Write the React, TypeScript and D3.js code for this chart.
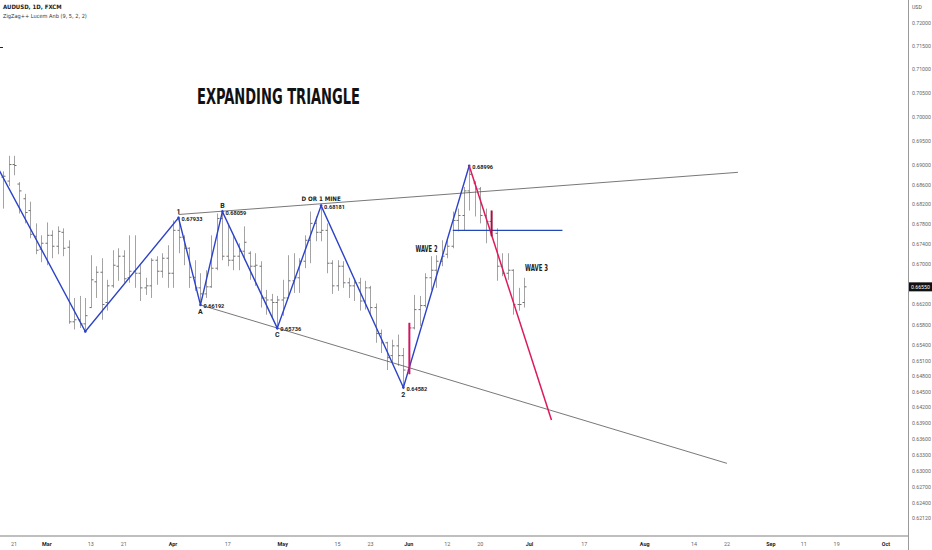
import React from 'react';
import * as d3 from 'd3';

// AUDUSD daily bars
const dates = [
  '2023-02-17', '2023-02-20', '2023-02-21', '2023-02-22', '2023-02-23', '2023-02-24', '2023-02-27', '2023-02-28',
  '2023-03-01', '2023-03-02', '2023-03-03', '2023-03-06', '2023-03-07', '2023-03-08', '2023-03-09', '2023-03-10',
  '2023-03-13', '2023-03-14', '2023-03-15', '2023-03-16', '2023-03-17', '2023-03-20', '2023-03-21', '2023-03-22',
  '2023-03-23', '2023-03-24', '2023-03-27', '2023-03-28', '2023-03-29', '2023-03-30', '2023-03-31', '2023-04-03',
  '2023-04-04', '2023-04-05', '2023-04-06', '2023-04-07', '2023-04-10', '2023-04-11', '2023-04-12', '2023-04-13',
  '2023-04-14', '2023-04-17', '2023-04-18', '2023-04-19', '2023-04-20', '2023-04-21', '2023-04-24', '2023-04-25',
  '2023-04-26', '2023-04-27', '2023-04-28', '2023-05-01', '2023-05-02', '2023-05-03', '2023-05-04', '2023-05-05',
  '2023-05-08', '2023-05-09', '2023-05-10', '2023-05-11', '2023-05-12', '2023-05-15', '2023-05-16', '2023-05-17',
  '2023-05-18', '2023-05-19', '2023-05-22', '2023-05-23', '2023-05-24', '2023-05-25', '2023-05-26', '2023-05-29',
  '2023-05-30', '2023-05-31', '2023-06-01', '2023-06-02', '2023-06-05', '2023-06-06', '2023-06-07', '2023-06-08',
  '2023-06-09', '2023-06-12', '2023-06-13', '2023-06-14', '2023-06-15', '2023-06-16', '2023-06-19', '2023-06-20',
  '2023-06-21', '2023-06-22', '2023-06-23', '2023-06-26', '2023-06-27', '2023-06-28', '2023-06-29', '2023-06-30',
];
const opens = [
  0.6876, 0.6868, 0.6902, 0.6862, 0.6832, 0.6808, 0.6756, 0.6730,
  0.6742, 0.6758, 0.6736, 0.6764, 0.6734, 0.6586, 0.6590, 0.6582,
  0.6614, 0.6665, 0.6684, 0.6624, 0.6657, 0.6696, 0.6716, 0.6673,
  0.6686, 0.6682, 0.6653, 0.6657, 0.6708, 0.6686, 0.6712, 0.6682,
  0.6768, 0.6754, 0.6732, 0.6674, 0.6653, 0.6641, 0.6655, 0.6692,
  0.6792, 0.6716, 0.6708, 0.6716, 0.6726, 0.6722, 0.6696, 0.6696,
  0.6633, 0.6629, 0.6624, 0.6629, 0.6633, 0.6667, 0.6673, 0.6706,
  0.6748, 0.6782, 0.6764, 0.6768, 0.6702, 0.6657, 0.6696, 0.6663,
  0.6657, 0.6663, 0.6627, 0.6653, 0.6614, 0.6563, 0.6545, 0.6520,
  0.6539, 0.6520, 0.6492, 0.6574, 0.6610, 0.6618, 0.6673, 0.6688,
  0.6706, 0.6720, 0.6736, 0.6788, 0.6798, 0.6848, 0.6864, 0.6852,
  0.6798, 0.6786, 0.6762, 0.6696, 0.6682, 0.6688, 0.6620, 0.6624,
];
const highs = [
  0.6888, 0.6920, 0.6920, 0.6866, 0.6842, 0.6826, 0.6782, 0.6758,
  0.6784, 0.6768, 0.6776, 0.6772, 0.6748, 0.6633, 0.6637, 0.6633,
  0.6718, 0.6696, 0.6712, 0.6669, 0.6728, 0.6732, 0.6728, 0.6758,
  0.6758, 0.6698, 0.6673, 0.6712, 0.6716, 0.6722, 0.6738, 0.6788,
  0.67933, 0.6758, 0.6734, 0.6708, 0.6682, 0.6688, 0.6758, 0.6802,
  0.68059, 0.6780, 0.6756, 0.6742, 0.6776, 0.6726, 0.6722, 0.6706,
  0.6649, 0.6641, 0.6637, 0.6669, 0.6718, 0.6722, 0.6712, 0.6758,
  0.6806, 0.6796, 0.68181, 0.6782, 0.6708, 0.6708, 0.6706, 0.6673,
  0.6669, 0.6673, 0.6667, 0.6657, 0.6622, 0.6571, 0.6547, 0.6551,
  0.6561, 0.6535, 0.6584, 0.6639, 0.6637, 0.6682, 0.6716, 0.6718,
  0.6748, 0.6748, 0.6806, 0.6812, 0.6856, 0.68996, 0.6868, 0.6856,
  0.6812, 0.6808, 0.6772, 0.6722, 0.6722, 0.6690, 0.6653, 0.6673,
];
const lows = [
  0.6812, 0.6858, 0.6880, 0.6802, 0.6782, 0.6752, 0.6720, 0.6704,
  0.6698, 0.6712, 0.6720, 0.6716, 0.6582, 0.6571, 0.6574, 0.6567,
  0.6614, 0.6633, 0.6590, 0.6608, 0.6653, 0.6667, 0.6663, 0.6663,
  0.6653, 0.6627, 0.6639, 0.6633, 0.6659, 0.6673, 0.6653, 0.6653,
  0.6722, 0.6698, 0.6653, 0.6647, 0.66192, 0.6633, 0.6653, 0.6688,
  0.6708, 0.6696, 0.6688, 0.6688, 0.6708, 0.6669, 0.6657, 0.6614,
  0.6600, 0.6594, 0.65736, 0.6598, 0.6633, 0.6643, 0.6643, 0.6692,
  0.6702, 0.6746, 0.6746, 0.6682, 0.6641, 0.6647, 0.6653, 0.6633,
  0.6627, 0.6608, 0.6610, 0.6598, 0.6545, 0.6525, 0.6492, 0.6506,
  0.6500, 0.64582, 0.6484, 0.6571, 0.6578, 0.6614, 0.6649, 0.6653,
  0.6696, 0.6712, 0.6732, 0.6766, 0.6768, 0.6808, 0.6796, 0.6782,
  0.6742, 0.6756, 0.6667, 0.6676, 0.6669, 0.6600, 0.6608, 0.6614,
];
const closes = [
  0.6878, 0.6902, 0.6900, 0.6848, 0.6804, 0.6760, 0.6728, 0.6742,
  0.6758, 0.6736, 0.6766, 0.6732, 0.6586, 0.6590, 0.6582, 0.6598,
  0.6669, 0.6684, 0.6620, 0.6657, 0.6698, 0.6716, 0.6671, 0.6686,
  0.6682, 0.6653, 0.6657, 0.6708, 0.6686, 0.6712, 0.6682, 0.6768,
  0.6754, 0.6732, 0.6674, 0.6653, 0.6641, 0.6655, 0.6692, 0.6792,
  0.6716, 0.6708, 0.6716, 0.6726, 0.6744, 0.6696, 0.6698, 0.6633,
  0.6629, 0.6624, 0.6629, 0.6633, 0.6667, 0.6673, 0.6706, 0.6748,
  0.6782, 0.6764, 0.6768, 0.6702, 0.6657, 0.6696, 0.6663, 0.6657,
  0.6663, 0.6627, 0.6653, 0.6614, 0.6563, 0.6545, 0.6516, 0.6539,
  0.6520, 0.6492, 0.6574, 0.6610, 0.6618, 0.6673, 0.6688, 0.6706,
  0.6716, 0.6736, 0.6788, 0.6798, 0.6848, 0.6882, 0.6852, 0.6798,
  0.6786, 0.6768, 0.6696, 0.6682, 0.6688, 0.6620, 0.6620, 0.6655,
];

// zigzag pivots
const zigDates = ['2023-02-14', '2023-03-10', '2023-04-04', '2023-04-10', '2023-04-14', '2023-04-28', '2023-05-10', '2023-05-31', '2023-06-16'];
const zigPrices = [0.6939, 0.6567, 0.67933, 0.66192, 0.68059, 0.65736, 0.68181, 0.64582, 0.68996];
const pivotNames = ['', '', '1', 'A', 'B', 'C', 'D OR 1 MINE', '2', ''];

// drawn objects
const upperLine = { d: ['2023-04-04', '2023-08-24'], p: [0.6800, 0.6886] };
const lowerLine = { d: ['2023-04-10', '2023-08-22'], p: [0.66192, 0.6314] };
const redLine = { d: ['2023-06-16', '2023-07-07'], p: [0.68996, 0.6396] };
const hLine = { d: ['2023-06-13', '2023-07-11'], p: [0.6768, 0.6768] };
const markers = [
  { d: '2023-06-01', p: [0.6584, 0.6484], c: '#d0165f' },
  { d: '2023-06-22', p: [0.6808, 0.6756], c: '#a3123f' },
];

// axes
const priceTicks = [0.72, 0.715, 0.71, 0.705, 0.7, 0.695, 0.69, 0.686, 0.682, 0.678, 0.674, 0.67,
  0.662, 0.658, 0.654, 0.651, 0.648, 0.645, 0.642, 0.639, 0.636, 0.633, 0.63, 0.627, 0.624, 0.6212];
const lastPrice = 0.6655;
const timeTickDates = ['2023-02-21', '2023-03-01', '2023-03-13', '2023-03-21', '2023-04-03', '2023-04-17', '2023-05-01',
  '2023-05-15', '2023-05-23', '2023-06-01', '2023-06-12', '2023-06-20', '2023-07-03', '2023-07-17', '2023-08-01',
  '2023-08-14', '2023-08-22', '2023-09-01', '2023-09-11', '2023-09-19', '2023-10-02'];
const timeTickLabels = ['21', 'Mar', '13', '21', 'Apr', '17', 'May', '15', '23', 'Jun', '12', '20', 'Jul', '17', 'Aug',
  '14', '22', 'Sep', '11', '19', 'Oct'];

const W = 932;
const H = 550;
const axisX = 908;
const axisY = 536;

const fmtKey = d3.timeFormat('%Y-%m-%d');
const days = d3.timeDay.range(new Date(2023, 1, 1), new Date(2023, 9, 10)).filter(d => d.getDay() !== 0 && d.getDay() !== 6);
const dayIndex = new Map(days.map((d, i) => [fmtKey(d), i]));
const di = (s: string) => dayIndex.get(s) as number;

const x = d3.scaleLinear().domain([di('2023-02-21'), di('2023-10-02')]).range([14, 886]);
const y = d3.scaleLog().domain([0.6212, 0.72]).range([518, 22.7]);
const fmtP = d3.format('.5f');

const narrow = "'Liberation Sans Narrow', 'DejaVu Sans Condensed', 'Roboto', sans-serif";
const sans = "'Roboto', 'Liberation Sans', sans-serif";

const App: React.FC = () => {
  const xd = (s: string) => x(di(s));
  const line = d3.line<[number, number]>();
  const zig: [number, number][] = zigDates.map((d, i) => [xd(d), y(zigPrices[i])]);
  const seg = (o: { d: string[]; p: number[] }) => line([[xd(o.d[0]), y(o.p[0])], [xd(o.d[1]), y(o.p[1])]]) as string;

  const pivLabels = zigDates.map((d, i) => {
    const px = xd(d);
    const py = y(zigPrices[i]);
    const isLow = i % 2 === 1;
    return { px, py, isLow, name: pivotNames[i], price: fmtP(zigPrices[i]) };
  });

  return (
    <svg width={W} height={H} style={{ position: 'absolute', left: 0, top: 0, background: '#fff' }}>
      <rect width={W} height={H} fill="#fff" />
      <defs>
        <clipPath id="plot"><rect x={0} y={0} width={axisX} height={axisY} /></clipPath>
      </defs>

      <g clipPath="url(#plot)">
        {/* OHLC bars */}
        {dates.map((d, i) => {
          const cx = Math.round(xd(d)) + 0.5;
          return (
            <g key={d}>
              <line x1={cx} x2={cx} y1={y(highs[i])} y2={y(lows[i])} stroke="#a3a3a3" strokeWidth={1} />
              <line x1={cx - 2} x2={cx} y1={y(opens[i])} y2={y(opens[i])} stroke="#6d6d6d" strokeWidth={1} />
              <line x1={cx} x2={cx + 2} y1={y(closes[i])} y2={y(closes[i])} stroke="#6d6d6d" strokeWidth={1} />
            </g>
          );
        })}

        {/* trend lines */}
        <path d={seg(upperLine)} stroke="#555" strokeWidth={0.8} fill="none" />
        <path d={seg(lowerLine)} stroke="#555" strokeWidth={0.8} fill="none" />

        {/* zigzag */}
        <path d={line(zig) as string} stroke="#2c43c8" strokeWidth={1.4} fill="none" />
        {zig.slice(1).map(([px, py], i) => (
          <circle key={i} cx={px} cy={py} r={1.3} fill="#2c43c8" />
        ))}

        <path d={seg(hLine)} stroke="#2447b8" strokeWidth={1.4} fill="none" />
        <path d={seg(redLine)} stroke="#dc1a5c" strokeWidth={1.5} fill="none" />
        {markers.map(m => (
          <line key={m.d} x1={xd(m.d) + 0.5} x2={xd(m.d) + 0.5} y1={y(m.p[0])} y2={y(m.p[1])} stroke={m.c} strokeWidth={2} />
        ))}

        {/* pivot labels */}
        {pivLabels.map((l, i) => i < 2 ? null : (
          <g key={i} fontFamily={sans} fill="#222">
            {l.name && (l.name.length > 1 ? (
              <text x={l.px} y={l.py - 4.5} fontSize={6.2} fontWeight={700} textAnchor="middle" fontFamily={narrow}>{l.name}</text>
            ) : (
              <text x={l.px} y={l.isLow ? l.py + 9 : l.py - 4} fontSize={7} fontWeight={700} textAnchor="middle">{l.name}</text>
            ))}
            <text x={l.px + 3} y={l.py + 3} fontSize={5.6} fontWeight={700}>{l.price}</text>
          </g>
        ))}

        <text x={197} y={104} fontSize={21} fontWeight={700} fontFamily={narrow} fill="#111" textLength={163} lengthAdjust="spacingAndGlyphs">EXPANDING TRIANGLE</text>
        <text x={415.5} y={252} fontSize={8} fontWeight={700} fontFamily={narrow} fill="#222" textLength={22} lengthAdjust="spacingAndGlyphs">WAVE 2</text>
        <text x={525} y={271} fontSize={8} fontWeight={700} fontFamily={narrow} fill="#222" textLength={23} lengthAdjust="spacingAndGlyphs">WAVE 3</text>
      </g>

      {/* header */}
      <text x={3} y={8.6} fontSize={6} fontWeight={700} fontFamily={narrow} fill="#222">AUDUSD, 1D, FXCM</text>
      <text x={3} y={18} fontSize={5.6} fontFamily={narrow} fill="#333">ZigZag++ Lucem Anb (9, 5, 2, 2)</text>
      <line x1={0} x2={3} y1={47.5} y2={47.5} stroke="#222" strokeWidth={1} />

      {/* price axis */}
      <line x1={axisX + 0.5} x2={axisX + 0.5} y1={0} y2={H} stroke="#9a9a9a" strokeWidth={1} />
      <text x={912} y={9} fontSize={5.2} fontFamily={sans} fill="#555">USD</text>
      {priceTicks.map(t => (
        <text key={t} x={912} y={y(t)} dy="0.35em" fontSize={5.2} fontFamily={sans} fill="#666">{fmtP(t)}</text>
      ))}
      <rect x={909} y={y(lastPrice) - 4.5} width={23} height={9} fill="#111" />
      <text x={911} y={y(lastPrice)} dy="0.35em" fontSize={5.2} fontFamily={sans} fill="#fff">{fmtP(lastPrice)}</text>

      {/* time axis */}
      <line x1={0} x2={axisX} y1={axisY} y2={axisY} stroke="#aaa" strokeWidth={1.3} />
      {timeTickDates.map((d, i) => {
        const isMonth = isNaN(Number(timeTickLabels[i]));
        return (
          <text key={d} x={xd(d)} y={544} dy="0.35em" textAnchor="middle" fontSize={5.4} fontFamily={sans}
            fontWeight={isMonth ? 700 : 400} fill={isMonth ? '#222' : '#666'}>{timeTickLabels[i]}</text>
        );
      })}
    </svg>
  );
};

export default App;
